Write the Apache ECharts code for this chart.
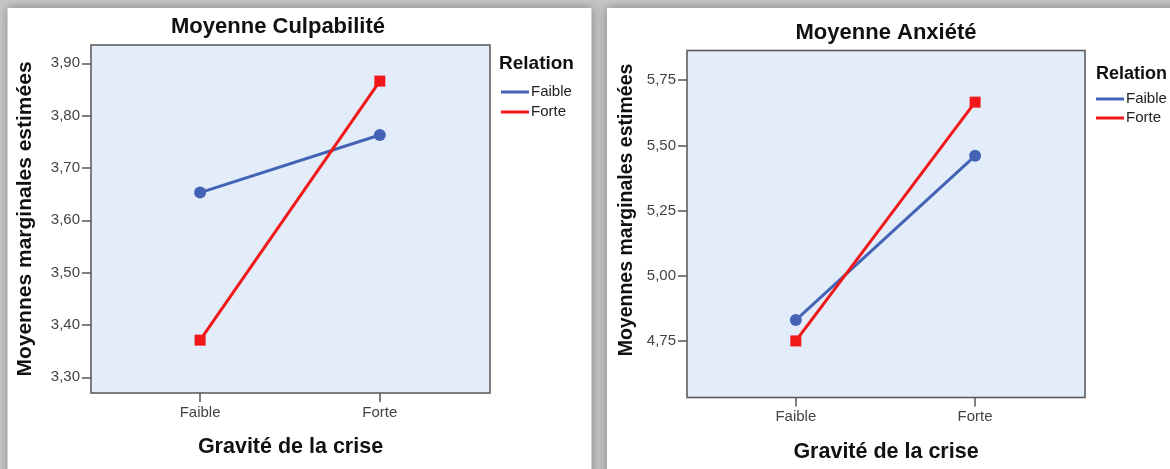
<!DOCTYPE html>
<html>
<head>
<meta charset="utf-8">
<script src="https://cdn.jsdelivr.net/npm/echarts@6/dist/echarts.min.js"></script>
<style>
  html, body { margin: 0; padding: 0; background: #c6c6c6; }
  #chart { width: 1170px; height: 469px; }
</style>
</head>
<body>
<div id="chart"></div>
<script>
// data
const categories = ["Faible", "Forte"];
const culpFaible = [3.653, 3.763];
const culpForte = [3.371, 3.866];
const anxFaible = [4.83, 5.46];
const anxForte = [4.75, 5.666];
const culpTicks = [3.3, 3.4, 3.5, 3.6, 3.7, 3.8, 3.9];
const anxTicks = [4.75, 5.0, 5.25, 5.5, 5.75];

const FONT = "Liberation Sans";
const BLUE = "#4563b5";
const RED = "#f01818";

const toPoints = (vals) => categories.map((c, i) => [i, vals[i]]);
const fmtNum = (v) => v.toFixed(2).replace(".", ",");

function xAxisOpt(gridIndex, nameGap) {
  return {
    type: "value",
    gridIndex: gridIndex,
    min: -0.607,
    max: 1.613,
    name: "Gravité de la crise",
    nameLocation: "middle",
    nameGap: nameGap,
    nameTextStyle: { fontFamily: FONT, fontWeight: "bold", fontSize: 21.5, color: "#111" },
    axisLine: { show: false, onZero: false },
    splitLine: { show: false },
    axisTick: { show: true, length: 9, customValues: [0, 1], lineStyle: { color: "#555", width: 1.5 } },
    axisLabel: {
      customValues: [0, 1],
      margin: 12,
      fontFamily: FONT,
      fontSize: 15,
      color: "#444",
      formatter: (v) => categories[Math.round(v)],
    },
  };
}

function yAxisOpt(gridIndex, min, max, ticks, nameGap, nameSize, padLeft) {
  return {
    type: "value",
    gridIndex: gridIndex,
    min: min,
    max: max,
    name: "Moyennes marginales estimées",
    nameLocation: "middle",
    nameGap: nameGap,
    nameTextStyle: {
      fontFamily: FONT, fontWeight: "bold", fontSize: nameSize, color: "#111",
      padding: [0, 0, 0, padLeft],
    },
    axisLine: { show: false, onZero: false },
    splitLine: { show: false },
    axisTick: { show: true, length: 9, customValues: ticks, lineStyle: { color: "#555", width: 1.5 } },
    axisLabel: {
      customValues: ticks,
      margin: 11,
      fontFamily: FONT,
      fontSize: 15,
      color: "#444",
      formatter: fmtNum,
    },
  };
}

function lineSeries(name, idx, vals, color, symbol, size) {
  return {
    name: name,
    type: "line",
    xAxisIndex: idx,
    yAxisIndex: idx,
    data: toPoints(vals),
    symbol: symbol,
    symbolSize: size,
    color: color,
    lineStyle: { width: 3, color: color },
    itemStyle: { color: color },
  };
}

function legendOpt(left, top, gap) {
  return {
    left: left,
    top: top,
    orient: "vertical",
    data: categories,
    icon: "rect",
    itemWidth: 28,
    itemHeight: 3,
    itemGap: gap,
    padding: 0,
    selectedMode: false,
    textStyle: { fontFamily: FONT, fontSize: 15, color: "#222", lineHeight: 16, padding: [0, 0, 0, -3] },
  };
}

const chart = echarts.init(document.getElementById("chart"));
chart.setOption({
  animation: false,
  backgroundColor: "#c6c6c6",
  graphic: [
    {
      type: "rect", z: -10,
      shape: { x: 7.5, y: 8, width: 584, height: 480 },
      style: { fill: "#ffffff", shadowBlur: 10, shadowColor: "rgba(0,0,0,0.35)" },
    },
    {
      type: "rect", z: -10,
      shape: { x: 607, y: 8, width: 580, height: 480 },
      style: { fill: "#ffffff", shadowBlur: 10, shadowColor: "rgba(0,0,0,0.35)" },
    },
  ],
  title: [
    {
      text: "Moyenne Culpabilité", left: 278, top: 16, textAlign: "center", padding: 0,
      textStyle: { fontFamily: FONT, fontWeight: "bold", fontSize: 22, color: "#111" },
    },
    {
      text: "Moyenne Anxiété", left: 886, top: 22, textAlign: "center", padding: 0,
      textStyle: { fontFamily: FONT, fontWeight: "bold", fontSize: 22, color: "#111" },
    },
    {
      text: "Relation", left: 499, top: 54, padding: 0,
      textStyle: { fontFamily: FONT, fontWeight: "bold", fontSize: 19, color: "#111" },
    },
    {
      text: "Relation", left: 1096, top: 65, padding: 0,
      textStyle: { fontFamily: FONT, fontWeight: "bold", fontSize: 18, color: "#111" },
    },
  ],
  legend: [legendOpt(501, 84, 4), legendOpt(1096, 91, 3)],
  grid: [
    {
      left: 91, top: 45, width: 399, height: 348,
      show: true, backgroundColor: "#e2edf9", borderColor: "#555", borderWidth: 1.5,
    },
    {
      left: 687, top: 50.5, width: 398, height: 347,
      show: true, backgroundColor: "#e2edf9", borderColor: "#555", borderWidth: 1.5,
    },
  ],
  xAxis: [xAxisOpt(0, 43), xAxisOpt(1, 44)],
  yAxis: [
    yAxisOpt(0, 3.27, 3.935, culpTicks, 55, 21, 0),
    yAxisOpt(1, 4.533, 5.864, anxTicks, 50, 19.5, 28),
  ],
  series: [
    lineSeries("Faible", 0, culpFaible, BLUE, "circle", 12),
    lineSeries("Forte", 0, culpForte, RED, "rect", 11),
    lineSeries("Faible", 1, anxFaible, BLUE, "circle", 12),
    lineSeries("Forte", 1, anxForte, RED, "rect", 11),
  ],
});
</script>
</body>
</html>
